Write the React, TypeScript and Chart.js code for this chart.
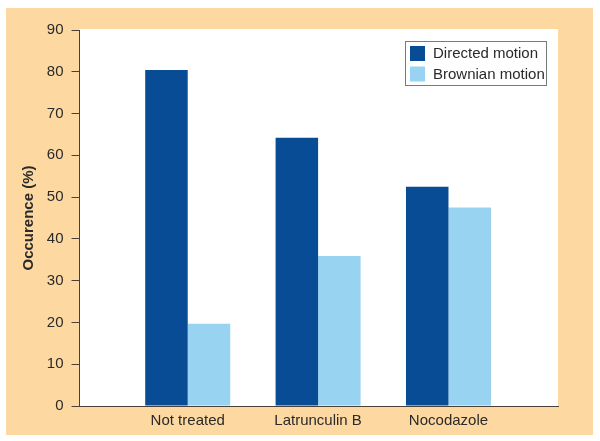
import React, { useEffect, useRef } from "react";
import { Chart, registerables } from "chart.js";

Chart.register(...registerables);

const categories = ["Not treated", "Latrunculin B", "Nocodazole"];
const directed = [80.4, 64.2, 52.5];
const brownian = [19.7, 35.9, 47.5];
const seriesNames = ["Directed motion", "Brownian motion"];
const yMin = 0;
const yMax = 90;
const yStep = 10;

const PEACH = "#FDD9A1";
const DARK = "#074C94";
const LIGHT = "#98D3F1";
const AXIS = "#4a4038";
const TEXT = "#2a2a2a";
const FONT = "'Liberation Sans', Arial, Helvetica, sans-serif";

const bgPlugin = {
  id: "bgPlugin",
  beforeDraw(chart: any) {
    const { ctx, chartArea } = chart;
    ctx.save();
    ctx.fillStyle = PEACH;
    ctx.fillRect(6, 8, 587, 427);
    ctx.fillStyle = "#ffffff";
    ctx.fillRect(chartArea.left, chartArea.top - 1, chartArea.right - chartArea.left, chartArea.bottom - chartArea.top + 1);
    ctx.restore();
  },
};

const legendPlugin = {
  id: "boxLegend",
  afterDraw(chart: any) {
    const { ctx } = chart;
    const x = 405.5, y = 41.5, w = 141, h = 44;
    ctx.save();
    ctx.fillStyle = "#ffffff";
    ctx.fillRect(x, y, w, h);
    ctx.strokeStyle = "#7a7a7a";
    ctx.lineWidth = 1;
    ctx.strokeRect(x, y, w, h);
    ctx.font = `15px ${FONT}`;
    ctx.textBaseline = "middle";
    ctx.textAlign = "left";
    chart.data.datasets.forEach((ds: any, i: number) => {
      const sy = 46 + i * 20.5;
      ctx.fillStyle = ds.backgroundColor;
      ctx.fillRect(410, sy, 15, 15);
      ctx.fillStyle = TEXT;
      ctx.fillText(ds.label, 433, sy + 8);
    });
    ctx.restore();
  },
};

export default function App() {
  const ref = useRef<HTMLCanvasElement | null>(null);

  useEffect(() => {
    if (!ref.current) return;
    const chart = new Chart(ref.current, {
      type: "bar",
      data: {
        datasets: [
          {
            label: seriesNames[0],
            data: categories.map((_, i) => ({ x: i + 1, y: directed[i] })),
            backgroundColor: DARK,
            borderWidth: 0,
          },
          {
            label: seriesNames[1],
            data: categories.map((_, i) => ({ x: i + 1, y: brownian[i] })),
            backgroundColor: LIGHT,
            borderWidth: 0,
          },
        ],
      },
      options: {
        responsive: false,
        animation: false,
        devicePixelRatio: 1,
        datasets: { bar: { categoryPercentage: 0.652, barPercentage: 1.0 } },
        layout: { padding: { left: 0, right: 42, top: 30, bottom: 0 } },
        plugins: {
          legend: { display: false },
          tooltip: { enabled: false },
        },
        scales: {
          x: {
            type: "linear",
            min: 0.17,
            max: 3.84,
            offset: false,
            grid: { display: false, drawTicks: false, offset: false },
            border: { display: true, color: AXIS, width: 1 },
            afterBuildTicks: (s: any) => {
              s.ticks = categories.map((_, i) => ({ value: i + 1 }));
            },
            afterFit: (s: any) => {
              s.height = 35;
            },
            ticks: {
              autoSkip: false,
              maxRotation: 0,
              padding: 6,
              color: TEXT,
              font: { family: FONT, size: 15 },
              callback: (v: any) => categories[Math.round(Number(v)) - 1] ?? "",
            },
          },
          y: {
            min: yMin,
            max: yMax,
            grid: { display: true, drawOnChartArea: false, drawTicks: true, tickLength: 8, color: AXIS, tickColor: AXIS },
            border: { display: true, color: AXIS, width: 1 },
            afterFit: (s: any) => {
              s.width = 79.5;
            },
            ticks: {
              stepSize: yStep,
              padding: 8,
              color: TEXT,
              font: { family: FONT, size: 15 },
            },
            title: {
              display: true,
              text: "Occurence (%)",
              color: TEXT,
              font: { family: FONT, size: 15, weight: "bold" },
              padding: { top: 20, bottom: 0 },
            },
          },
        },
      },
      plugins: [bgPlugin, legendPlugin],
    } as any);
    return () => chart.destroy();
  }, []);

  return (
    <div style={{ position: "fixed", left: 0, top: 0, width: 600, height: 441, background: "#ffffff" }}>
      <canvas ref={ref} width={600} height={441} style={{ display: "block" }} />
    </div>
  );
}
